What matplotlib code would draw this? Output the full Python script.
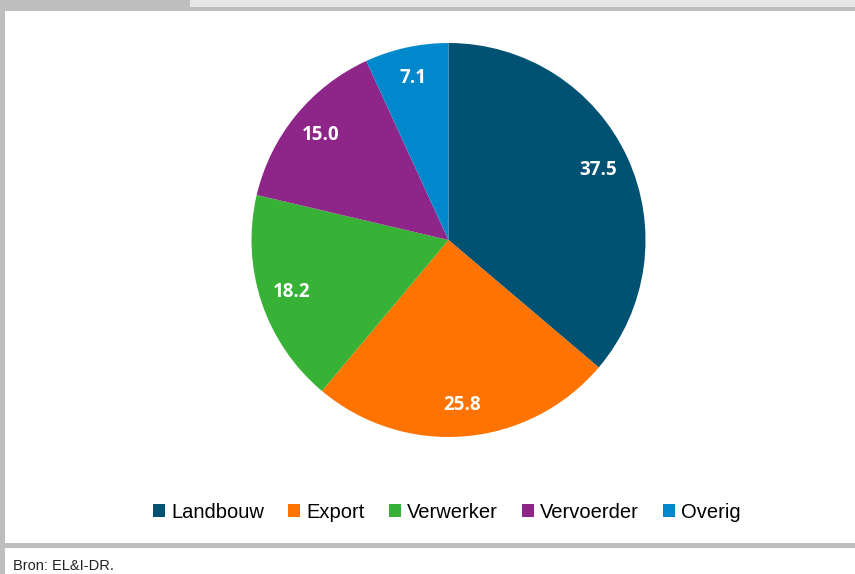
import matplotlib
matplotlib.use('Agg')
import matplotlib.pyplot as plt
from matplotlib.patches import Rectangle

labels = ['Landbouw', 'Export', 'Verwerker', 'Vervoerder', 'Overig']
values = [37.5, 25.8, 18.2, 15.0, 7.1]
colors = ['#005172', '#FF7300', '#38B236', '#8E2689', '#0088CC']

W, H = 855, 574
fig = plt.figure(figsize=(W / 100, H / 100), dpi=100)
fig.patch.set_facecolor('#BEBEBE')

# background frame in pixel coordinates
bg = fig.add_axes([0, 0, 1, 1])
bg.set_xlim(0, W)
bg.set_ylim(H, 0)
bg.axis('off')
bg.add_patch(Rectangle((190, 0), W - 190, 7, facecolor='#E6E6E6', edgecolor='none'))
bg.add_patch(Rectangle((5, 11), W - 5, 532, facecolor='white', edgecolor='none'))
bg.add_patch(Rectangle((5, 548), W - 5, 30, facecolor='white', edgecolor='none'))
bg.text(13, 566, 'Bron: EL&I-DR.', fontsize=10.5, va='center', ha='left',
        family=['Liberation Sans', 'DejaVu Sans'], color='#222222')

# pie axes: centre (448.5, 240), radius 197 px
cx, cy, r = 448.5, 240, 197
ax = fig.add_axes([(cx - r) / W, 1 - (cy + r) / H, 2 * r / W, 2 * r / H])
wedges, texts, autotexts = ax.pie(
    values, colors=colors, startangle=90, counterclock=False,
    autopct=lambda p: '', labeldistance=None, pctdistance=0.84,
    wedgeprops=dict(edgecolor='none', linewidth=0))
for at, v in zip(autotexts, values):
    at.set_text(f'{v:.1f}')
    at.set_color('white')
    at.set_fontsize(13.5)
    at.set_fontweight('bold')
    at.set_family(['Open Sans', 'DejaVu Sans'])
ax.set_xlim(-1, 1)
ax.set_ylim(-1, 1)
ax.set_aspect('equal')

leg = fig.legend(wedges, labels, loc='center', ncol=5, frameon=False,
                 bbox_to_anchor=(447 / W, 1 - 512 / H),
                 handlelength=0.6, handleheight=0.6, handletextpad=0.3,
                 columnspacing=1.2,
                 prop={'family': ['Liberation Sans', 'DejaVu Sans'], 'size': 14.5})

plt.savefig('out.png', dpi=100, facecolor=fig.get_facecolor())
